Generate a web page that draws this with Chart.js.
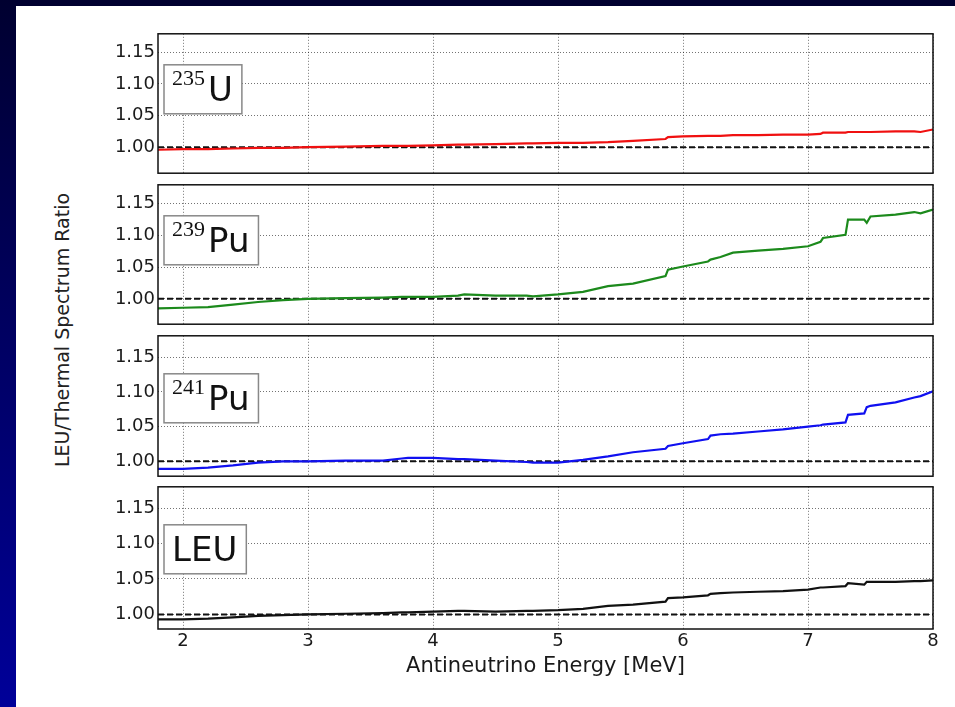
<!DOCTYPE html>
<html>
<head>
<meta charset="utf-8">
<script src="https://cdn.jsdelivr.net/npm/chart.js@4.4.1/dist/chart.umd.min.js"></script>
<style>
    body {
        margin: 0;
        width: 955px;
        height: 707px;
        overflow: hidden;
        background: #fff;
        position: relative;
        font-family: "DejaVu Sans", sans-serif;
    }
    #frameTop {
        position: absolute; left: 0; top: 0;
        width: 955px; height: 6px;
        background: #000030;
    }
    #frameLeft {
        position: absolute; left: 0; top: 0;
        width: 16px; height: 707px;
        background: linear-gradient(#000030, #000099);
    }
    canvas { position: absolute; left: 0; }
    #yTitle {
        position: absolute;
        left: 62px; top: 330px;
        transform: translate(-50%, -50%) rotate(-90deg);
        white-space: nowrap;
        font-size: 19px;
        color: #222;
    }
</style>
</head>
<body>
<div id="frameTop"></div>
<div id="frameLeft"></div>
<div id="yTitle">LEU/Thermal Spectrum Ratio</div>

<script>
// Data
const energy = [1.8, 2.0, 2.2, 2.4, 2.6, 2.8, 3.0, 3.3, 3.6, 3.75, 3.8, 4.0, 4.2, 4.25, 4.5, 4.75, 4.8,
    5.0, 5.2, 5.4, 5.6, 5.86, 5.88, 6.0, 6.2, 6.22, 6.3, 6.4, 6.6, 6.8, 7.0, 7.1, 7.12, 7.3, 7.32,
    7.45, 7.47, 7.5, 7.7, 7.85, 7.9, 8.0];

const ratioU235 = [0.996, 0.997, 0.997, 0.998, 0.999, 0.999, 1.000, 1.001, 1.002, 1.002, 1.002, 1.003,
    1.004, 1.004, 1.005, 1.006, 1.006, 1.007, 1.007, 1.008, 1.010, 1.013, 1.016, 1.017, 1.018, 1.018,
    1.018, 1.019, 1.019, 1.020, 1.020, 1.021, 1.023, 1.023, 1.024, 1.024, 1.024, 1.024, 1.025, 1.025,
    1.024, 1.028];

const ratioPu239 = [0.985, 0.986, 0.987, 0.991, 0.995, 0.998, 1.000, 1.001, 1.002, 1.003, 1.003, 1.003,
    1.005, 1.007, 1.005, 1.005, 1.004, 1.007, 1.011, 1.020, 1.024, 1.036, 1.046, 1.051, 1.059, 1.062,
    1.066, 1.073, 1.076, 1.079, 1.083, 1.090, 1.096, 1.101, 1.125, 1.125, 1.120, 1.130, 1.133, 1.137,
    1.135, 1.141];

const ratioPu241 = [0.989, 0.989, 0.991, 0.994, 0.998, 1.000, 1.000, 1.001, 1.001, 1.004, 1.005, 1.005,
    1.003, 1.003, 1.001, 0.999, 0.998, 0.998, 1.002, 1.007, 1.013, 1.018, 1.022, 1.026, 1.032, 1.037,
    1.039, 1.040, 1.043, 1.046, 1.050, 1.052, 1.053, 1.056, 1.067, 1.069, 1.078, 1.080, 1.085, 1.092,
    1.094, 1.101];

const ratioLEU = [0.993, 0.993, 0.994, 0.996, 0.998, 0.999, 1.000, 1.001, 1.002, 1.003, 1.003, 1.004,
    1.005, 1.005, 1.004, 1.005, 1.005, 1.006, 1.008, 1.012, 1.014, 1.018, 1.023, 1.024, 1.027, 1.029,
    1.030, 1.031, 1.032, 1.033, 1.035, 1.038, 1.038, 1.040, 1.044, 1.042, 1.046, 1.046, 1.046, 1.047,
    1.047, 1.048];

const xTicks = [2, 3, 4, 5, 6, 7, 8];
const yTicks = [1.00, 1.05, 1.10, 1.15];
const xRange = [1.8, 8];
const refRatio = 1.0;

// Panel layout (pixels) and styling
const panels = [
    { sup: '235', main: 'U',   data: ratioU235,  color: '#f01010', top: 32,  bottom: 175, yMin: 0.959,  yMax: 1.179, boxTop: 31 },
    { sup: '239', main: 'Pu',  data: ratioPu239, color: '#1c8a1c', top: 183, bottom: 326, yMin: 0.960,  yMax: 1.180, boxTop: 31 },
    { sup: '241', main: 'Pu',  data: ratioPu241, color: '#1010f0', top: 334, bottom: 478, yMin: 0.9785, yMax: 1.181, boxTop: 38 },
    { sup: '',    main: 'LEU', data: ratioLEU,   color: '#111111', top: 485, bottom: 629, yMin: 0.9795, yMax: 1.180, boxTop: 38 }
];

const textColor = '#1a1a1a';
const gridColor = 'rgba(0,0,0,0.55)';
const padTop = 12;
const xAxisHeight = 50;

// black frame around each plot area
const framePlugin = {
    id: 'frame',
    afterDraw(chart) {
        const { ctx, chartArea: a } = chart;
        ctx.save();
        ctx.strokeStyle = '#111';
        ctx.lineWidth = 1.5;
        ctx.strokeRect(a.left, a.top, a.right - a.left, a.bottom - a.top);
        ctx.restore();
    }
};

// isotope label box in the upper left
const labelPlugin = {
    id: 'isoLabel',
    afterDraw(chart, args, opts) {
        const { ctx, chartArea: a } = chart;
        const supFont = '22px "Liberation Serif", "DejaVu Serif", serif';
        const mainFont = '34px "DejaVu Sans", sans-serif';
        ctx.save();
        ctx.font = supFont;
        const supW = opts.sup ? ctx.measureText(opts.sup).width + 3 : 0;
        ctx.font = mainFont;
        const mainW = ctx.measureText(opts.main).width;
        const bx = a.left + 6;
        const by = a.top + opts.boxTop;
        const bw = 8 + supW + mainW + 9;
        const bh = 49;
        ctx.fillStyle = '#fff';
        ctx.fillRect(bx, by, bw, bh);
        ctx.strokeStyle = '#888';
        ctx.lineWidth = 1.5;
        ctx.strokeRect(bx, by, bw, bh);
        ctx.fillStyle = '#111';
        ctx.textBaseline = 'alphabetic';
        if (opts.sup) {
            ctx.font = supFont;
            ctx.fillText(opts.sup, bx + 8, by + 20);
        }
        ctx.font = mainFont;
        ctx.fillText(opts.main, bx + 8 + supW, by + 36);
        ctx.restore();
    }
};

panels.forEach((p, i) => {
    const last = i === panels.length - 1;
    const canvas = document.createElement('canvas');
    const h = padTop + (p.bottom - p.top) + (last ? xAxisHeight : padTop);
    canvas.width = 955;
    canvas.height = h;
    canvas.style.top = (p.top - padTop) + 'px';
    document.body.appendChild(canvas);

    new Chart(canvas.getContext('2d'), {
        type: 'line',
        data: {
            datasets: [
                {
                    data: energy.map((e, k) => ({ x: e, y: p.data[k] })),
                    borderColor: p.color,
                    borderWidth: 2.2,
                    pointRadius: 0,
                    tension: 0
                },
                {
                    data: xRange.map(e => ({ x: e, y: refRatio })),
                    borderColor: '#111',
                    borderWidth: 2,
                    borderDash: [6, 3],
                    pointRadius: 0
                }
            ]
        },
        options: {
            responsive: false,
            animation: false,
            layout: { padding: { top: padTop, bottom: last ? 0 : padTop, left: 0, right: 955 - 933 } },
            plugins: {
                legend: { display: false },
                tooltip: { enabled: false },
                isoLabel: { sup: p.sup, main: p.main, boxTop: p.boxTop }
            },
            scales: {
                x: {
                    type: 'linear',
                    min: xRange[0],
                    max: xRange[1],
                    afterBuildTicks: s => { s.ticks = xTicks.map(v => ({ value: v })); },
                    afterFit: s => { s.height = last ? xAxisHeight : 0; },
                    ticks: {
                        display: last,
                        padding: 2,
                        color: textColor,
                        font: { family: 'DejaVu Sans', size: 18 }
                    },
                    grid: { color: gridColor, lineWidth: 1, drawTicks: false },
                    border: { display: false, dash: [1, 2] },
                    title: {
                        display: last,
                        text: 'Antineutrino Energy [MeV]',
                        color: textColor,
                        font: { family: 'DejaVu Sans', size: 21 },
                        padding: 0
                    }
                },
                y: {
                    min: p.yMin,
                    max: p.yMax,
                    afterBuildTicks: s => { s.ticks = yTicks.map(v => ({ value: v })); },
                    afterFit: s => { s.width = 158; },
                    ticks: {
                        padding: 3,
                        color: textColor,
                        font: { family: 'DejaVu Sans', size: 18 },
                        callback: v => v.toFixed(2)
                    },
                    grid: { color: gridColor, lineWidth: 1, drawTicks: false },
                    border: { display: false, dash: [1, 2] }
                }
            }
        },
        plugins: [framePlugin, labelPlugin]
    });
});
</script>
</body>
</html>
